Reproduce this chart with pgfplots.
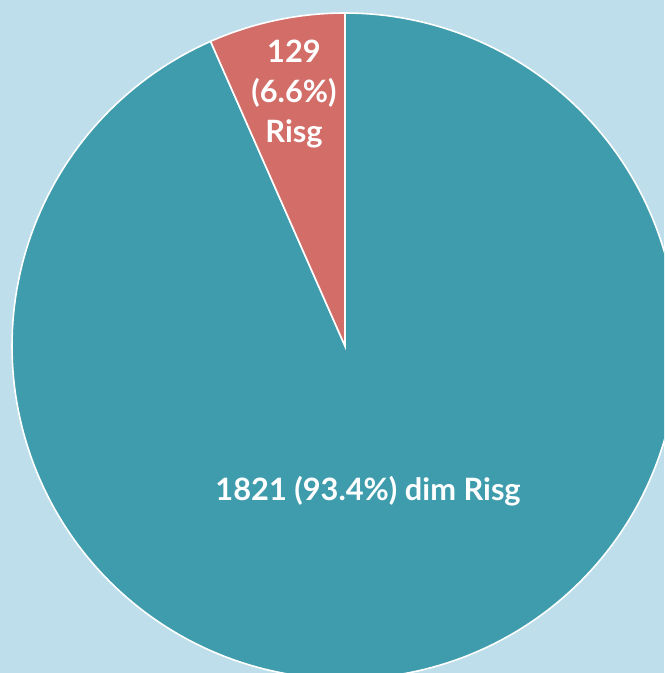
\documentclass[border=0pt]{standalone}
\usepackage{pgfplots}
\pgfplotsset{compat=1.18}
\usepackage{fontspec}
\setmainfont{Lato}

\definecolor{bg}{HTML}{BDDEEA}
\definecolor{wall}{HTML}{3F9CAC}
\definecolor{risg}{HTML}{D26D68}

% counts
\def\vrisg{129}
\def\vdim{1821}
\pgfmathsetmacro{\total}{\vrisg+\vdim}
\pgfmathsetmacro{\arisg}{90+360*(\vrisg/\total)}
\def\R{333}

\begin{document}
\begin{tikzpicture}
\fill[bg] (0,0) rectangle (332pt,336.5pt);
\begin{axis}[
    at={(0,0)}, anchor=south west,
    x=0.5pt, y=0.5pt,
    xmin=-345, xmax=319, ymin=-327, ymax=346,
    hide axis, clip=true,
]
% dim Risg
\addplot[fill=wall, draw=white, line width=0.8pt, domain=\arisg:450, samples=240]
    ({\R*cos(x)},{\R*sin(x)}) -- (0,0) -- cycle;
% Risg
\addplot[fill=risg, draw=white, line width=0.8pt, domain=90:\arisg, samples=40]
    ({\R*cos(x)},{\R*sin(x)}) -- (0,0) -- cycle;

\node[text=white, font=\fontsize{15.4}{20}\selectfont\bfseries, align=center]
    at (-51,252) {129\\(6.6\%)\\Risg};
\node[text=white, font=\fontsize{15.4}{20}\selectfont\bfseries]
    at (23,-145) {1821 (93.4\%) dim Risg};
\end{axis}
\end{tikzpicture}
\end{document}
